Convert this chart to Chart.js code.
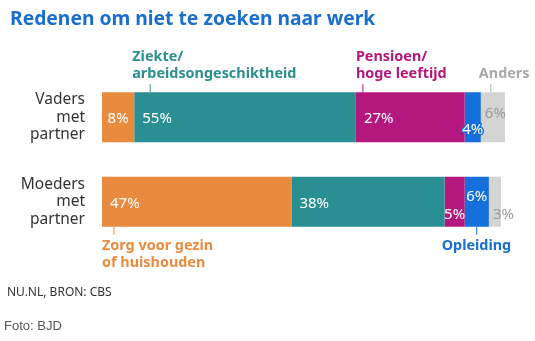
<!DOCTYPE html>
<html>
<head>
<meta charset="utf-8">
<script src="https://cdn.jsdelivr.net/npm/chart.js@4.4.1/dist/chart.umd.min.js"></script>
<style>
    body { margin: 0; background: #fff; width: 535px; height: 341px; overflow: hidden; position: relative; }
    #titel { position: absolute; left: 10px; top: 4px; font: bold 19.3px "Noto Sans", sans-serif; color: #1a6ecf; white-space: nowrap; }
    #bron { position: absolute; left: 7px; top: 283px; font: 12px "Noto Sans", sans-serif; color: #333; }
    #foto { position: absolute; left: 4px; top: 318px; font: 13px "Liberation Sans", Arial, sans-serif; color: #555; }
    #wrap { position: absolute; left: 0; top: 0; width: 535px; height: 341px; }
</style>
</head>
<body>
<div id="wrap"><canvas id="grafiek"></canvas></div>
<div id="titel">Redenen om niet te zoeken naar werk</div>
<div id="bron">NU.NL, BRON: CBS</div>
<div id="foto">Foto: BJD</div>
<script>
// categorieen en percentages per reden
const categories = [['Vaders', 'met', 'partner'], ['Moeders', 'met', 'partner']];
const reasons = ['Zorg voor gezin of huishouden', 'Ziekte/arbeidsongeschiktheid', 'Pensioen/hoge leeftijd', 'Opleiding', 'Anders'];
const zorg = [8, 47];
const ziekte = [55, 38];
const pensioen = [27, 5];
const opleiding = [4, 6];
const anders = [6, 3];

const kleuren = ['#e98b3f', '#2a8f93', '#b4187f', '#1570db', '#d4d4d4'];

// plek van de percentage-labels (verticale verschuiving per rij)
const labelDy = [[0, 0], [0, 0], [0, 11.5], [11, -6.5], [-5, 11.5]];

// teksten met streepje boven/onder de balken
const notes = [
    { ds: 1, row: 0, lines: ['Ziekte/', 'arbeidsongeschiktheid'], color: '#2a8f8c', tickDx: 16, textDx: -2, side: 'top' },
    { ds: 2, row: 0, lines: ['Pensioen/', 'hoge leeftijd'], color: '#b3177c', tickDx: 7, textDx: 0, side: 'top' },
    { ds: 4, row: 0, lines: ['Anders'], color: '#a9a9a9', tickDx: 10, textDx: -2, side: 'top' },
    { ds: 0, row: 1, lines: ['Zorg voor gezin', 'of huishouden'], color: '#e98b3f', tickDx: 12, textDx: 0, side: 'bottom' },
    { ds: 3, row: 1, lines: ['Opleiding'], color: '#1a6ed0', tickDx: 12, textDx: -23, side: 'bottom' }
];

const labelPlugin = {
    id: 'labels',
    afterDatasetsDraw(chart) {
        const ctx = chart.ctx;
        ctx.save();
        ctx.font = '15px "Noto Sans"';
        ctx.textBaseline = 'middle';
        chart.data.datasets.forEach((ds, i) => {
            chart.getDatasetMeta(i).data.forEach((bar, j) => {
                const start = bar.base;
                const w = bar.x - bar.base;
                const txt = ds.data[j] + '%';
                const y = bar.y + 1.5 + labelDy[i][j];
                let x;
                if (i === 4) {
                    ctx.textAlign = 'left';
                    x = start + 4;
                } else if (w < 40) {
                    ctx.textAlign = 'center';
                    x = start + w / 2;
                } else {
                    ctx.textAlign = 'left';
                    x = start + 8;
                }
                if (i === 3 && j === 0) {
                    // randje om het label dat buiten de smalle balk valt
                    ctx.strokeStyle = kleuren[3];
                    ctx.lineWidth = 3;
                    ctx.lineJoin = 'round';
                    ctx.strokeText(txt, x, y);
                }
                ctx.fillStyle = i === 4 ? '#9a9a9a' : '#fff';
                ctx.fillText(txt, x, y);
            });
        });

        ctx.font = 'bold 14.4px "Noto Sans"';
        ctx.textAlign = 'left';
        ctx.textBaseline = 'alphabetic';
        notes.forEach(n => {
            const bar = chart.getDatasetMeta(n.ds).data[n.row];
            const half = bar.height / 2;
            const tx = bar.base + n.tickDx;
            const x = bar.base + n.textDx;
            ctx.strokeStyle = n.color;
            ctx.fillStyle = n.color;
            ctx.lineWidth = 1;
            ctx.beginPath();
            if (n.side === 'top') {
                const top = bar.y - half;
                ctx.moveTo(tx, top - 8);
                ctx.lineTo(tx, top);
                ctx.stroke();
                n.lines.forEach((l, k) => {
                    ctx.fillText(l, x, top - 14 - (n.lines.length - 1 - k) * 17);
                });
            } else {
                const bottom = bar.y + half;
                ctx.moveTo(tx, bottom);
                ctx.lineTo(tx, bottom + 8);
                ctx.stroke();
                n.lines.forEach((l, k) => {
                    ctx.fillText(l, x, bottom + 23 + k * 17);
                });
            }
        });
        ctx.restore();
    }
};

const series = [zorg, ziekte, pensioen, opleiding, anders];

new Chart(document.getElementById('grafiek'), {
    type: 'bar',
    data: {
        labels: categories,
        datasets: series.map((d, i) => ({
            label: reasons[i],
            data: d,
            backgroundColor: kleuren[i],
            borderWidth: 0,
            barPercentage: 0.592,
            categoryPercentage: 1
        }))
    },
    options: {
        indexAxis: 'y',
        responsive: true,
        maintainAspectRatio: false,
        animation: false,
        layout: { padding: { left: 0, right: 30, top: 75, bottom: 97 } },
        plugins: {
            legend: { display: false },
            tooltip: { enabled: false }
        },
        scales: {
            x: {
                stacked: true,
                min: 0,
                max: 100,
                display: false
            },
            y: {
                stacked: true,
                grid: { display: false, drawTicks: false },
                border: { display: false },
                ticks: {
                    padding: 17,
                    color: '#333',
                    font: { family: 'Noto Sans', size: 15.5, lineHeight: 1.12 }
                },
                afterFit(scale) { scale.width = 102; }
            }
        }
    },
    plugins: [labelPlugin]
});
</script>
</body>
</html>
